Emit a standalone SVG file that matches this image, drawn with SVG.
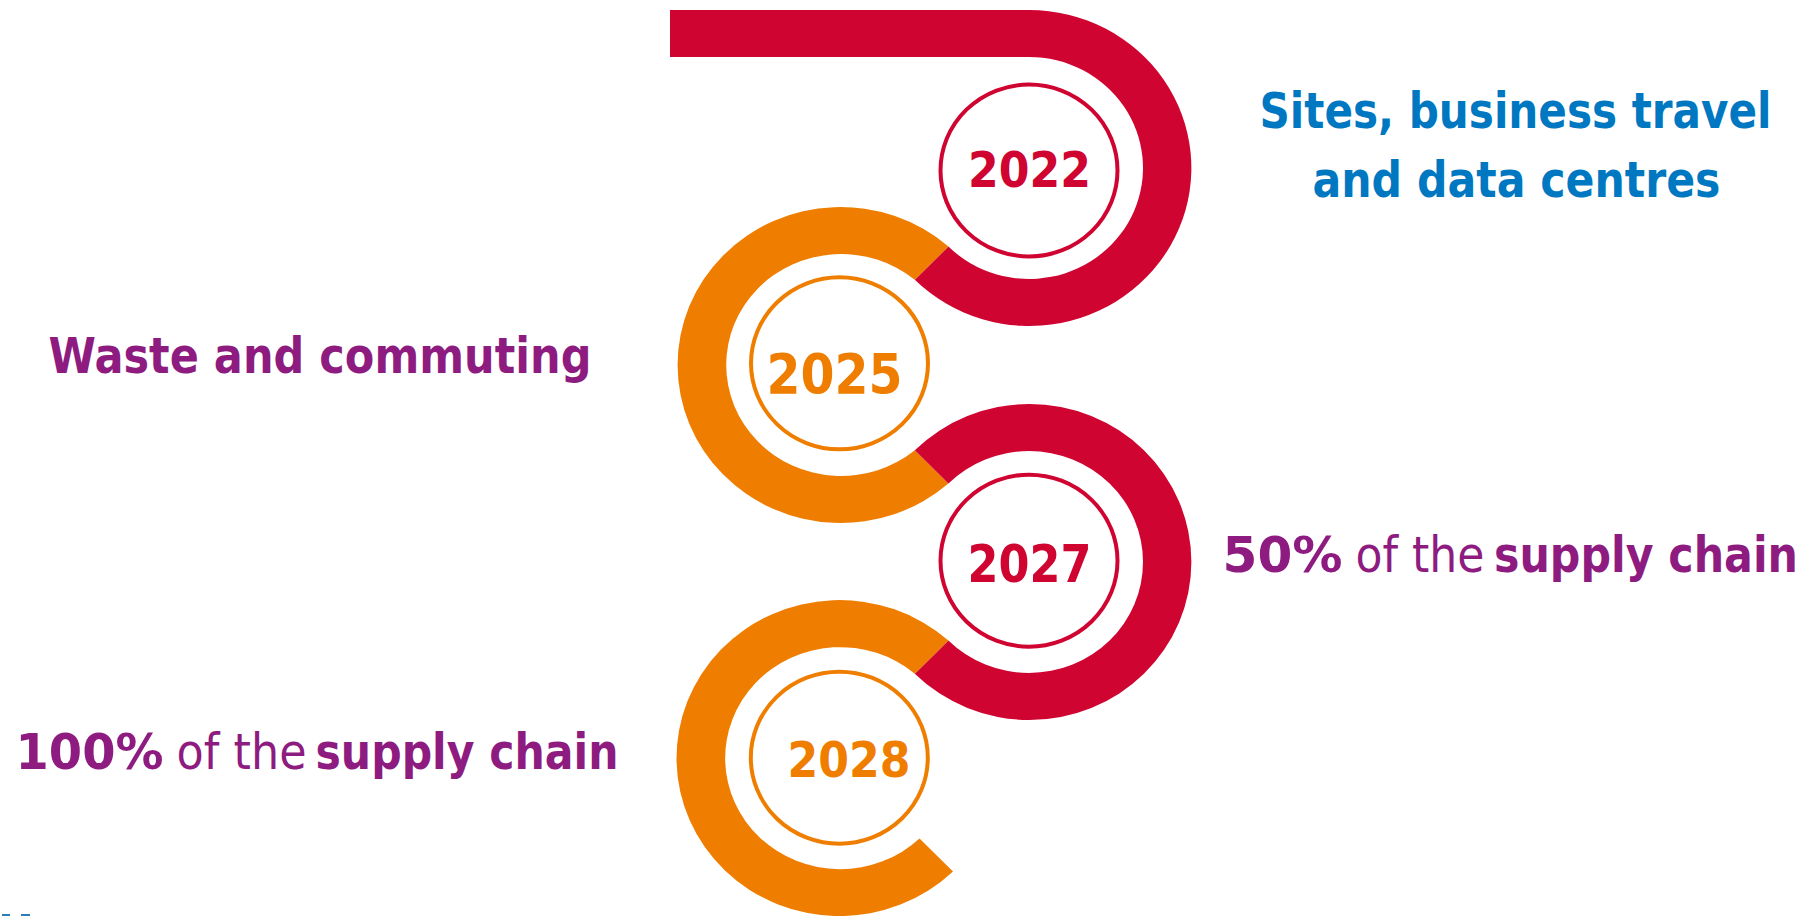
<svg xmlns="http://www.w3.org/2000/svg" width="1806" height="916" viewBox="0 0 1806 916">
<style>
.red{fill:#CF0431}
.org{fill:#EF7E00}
.ringR{fill:#fff;stroke:#CF0431;stroke-width:4}
.ringO{fill:#fff;stroke:#EF7E00;stroke-width:4}
.yr{font-family:"DejaVu Sans","Liberation Sans",sans-serif;font-weight:bold}
.lb{font-family:"DejaVu Sans","Liberation Sans",sans-serif;font-size:50px}
.b{font-weight:bold}
.n{font-weight:normal}
.pur{fill:#8E1C80}
.blu{fill:#0078C1}
</style>
<rect width="1806" height="916" fill="#fff"/>
<g id="connectors">
<path class="red" d="M670,10 H1029 A162,158 0 1 1 914.8,279.7 L948.4,246.5 A114,111 0 1 0 1029,57 H670 Z"/>
<path class="org" d="M948.4,246.5 A163,158 0 1 0 948.4,483.5 L914.8,450.3 A115,111 0 1 1 914.8,279.7 Z"/>
<path class="red" d="M914.8,450.3 A162,158 0 1 1 914.8,673.7 L948.4,640.5 A114,111 0 1 0 948.4,483.5 Z"/>
<path class="org" d="M948.4,640.5 A163,158 0 1 0 953,871.5 L919.5,838.5 A115,111 0 1 1 914.8,673.7 Z"/>
</g>
<g id="node-2022">
<ellipse class="ringR" cx="1029" cy="170.5" rx="88.5" ry="86"/>
<text class="yr red" x="968" y="187.3" font-size="50" textLength="123" lengthAdjust="spacingAndGlyphs">2022</text>
</g>
<g id="node-2025">
<ellipse class="ringO" cx="839.5" cy="363.3" rx="88.5" ry="86"/>
<text class="yr org" x="766.5" y="393.3" font-size="55.5" textLength="136" lengthAdjust="spacingAndGlyphs">2025</text>
</g>
<g id="node-2027">
<ellipse class="ringR" cx="1029" cy="560.7" rx="88.5" ry="86"/>
<text class="yr red" x="967.5" y="582.3" font-size="52" textLength="124" lengthAdjust="spacingAndGlyphs">2027</text>
</g>
<g id="node-2028">
<ellipse class="ringO" cx="839.3" cy="757.7" rx="88.5" ry="86"/>
<text class="yr org" x="787.5" y="776.7" font-size="50" textLength="123" lengthAdjust="spacingAndGlyphs">2028</text>
</g>
<g id="label-2022">
<text class="lb b blu" x="1259.5" y="128.3" textLength="512" lengthAdjust="spacingAndGlyphs">Sites, business travel</text>
<text class="lb b blu" x="1312.5" y="196.7" textLength="408" lengthAdjust="spacingAndGlyphs">and data centres</text>
</g>
<g id="label-2025">
<text class="lb b pur" x="48.5" y="373.3" textLength="543" lengthAdjust="spacingAndGlyphs">Waste and commuting</text>
</g>
<g id="label-2027">
<text class="lb b pur" x="1222.5" y="571.7" textLength="120" lengthAdjust="spacingAndGlyphs">50%</text>
<text class="lb n pur" x="1355.5" y="571.7" textLength="129" lengthAdjust="spacingAndGlyphs">of the</text>
<text class="lb b pur" x="1494" y="571.7" textLength="304" lengthAdjust="spacingAndGlyphs">supply chain</text>
</g>
<g id="label-2028">
<text class="lb b pur" x="15.5" y="769.3" textLength="148" lengthAdjust="spacingAndGlyphs">100%</text>
<text class="lb n pur" x="176.5" y="769.3" textLength="130" lengthAdjust="spacingAndGlyphs">of the</text>
<text class="lb b pur" x="315.5" y="769.3" textLength="303" lengthAdjust="spacingAndGlyphs">supply chain</text>
</g>
<g id="edge-fragment">
<rect x="2" y="914" width="8" height="2" fill="#2A7DB8"/>
<rect x="21" y="914" width="9" height="2" fill="#2A7DB8"/>
</g>
</svg>
